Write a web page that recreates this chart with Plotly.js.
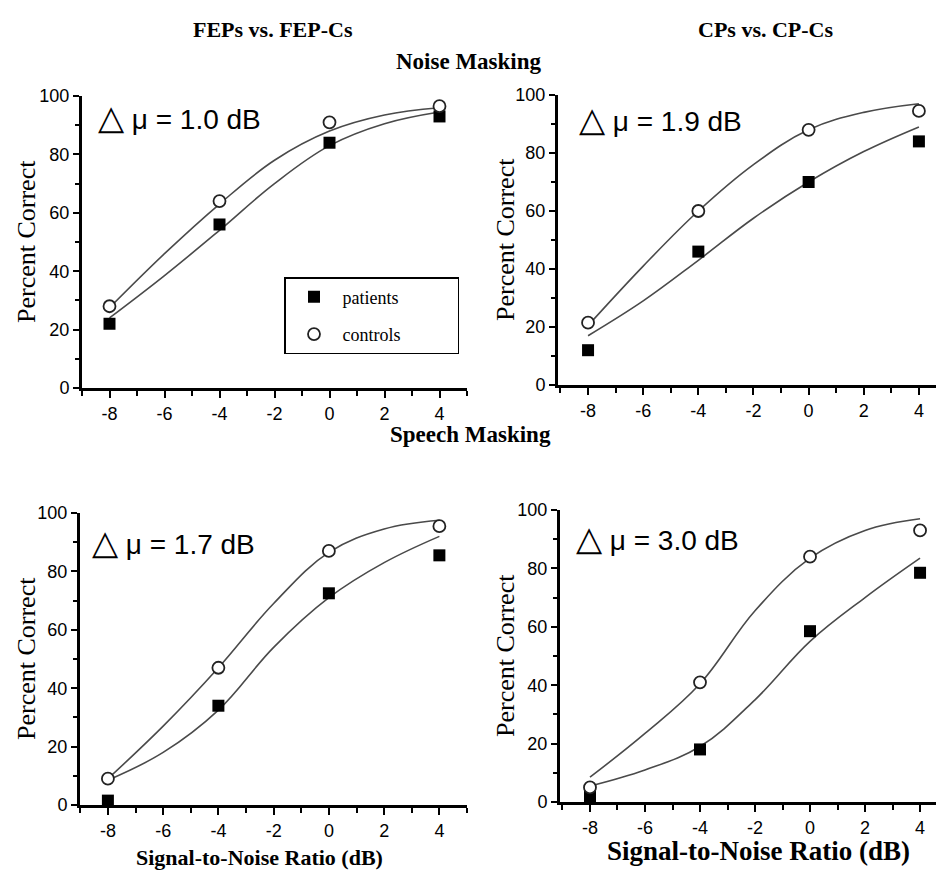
<!DOCTYPE html>
<html>
<head>
<meta charset="utf-8">
<script src="https://cdn.plot.ly/plotly-3.0.1.min.js"></script>
<style>html,body{margin:0;padding:0;background:#fff;}</style>
</head>
<body>
<div id="chart" style="width:936px;height:870px;"></div>
<script>
// ---- data ----
const snr = [-8, -4, 0, 4];
const fitX = [-8, -6, -4, -2, 0, 2, 4];

// Noise masking, FEPs vs FEP-Cs
const noiseFepPatients = [22, 56, 84, 93];
const noiseFepControls = [28, 64, 91, 96.5];
const noiseFepPatientsFit = [24, 38.5, 54, 70, 83, 90.5, 94.5];
const noiseFepControlsFit = [27.5, 46, 63, 78, 88, 93.5, 96];

// Noise masking, CPs vs CP-Cs
const noiseCpPatients = [12, 46, 70, 84];
const noiseCpControls = [21.5, 60, 88, 94.5];
const noiseCpPatientsFit = [17, 29, 43, 57.5, 70, 80.5, 89];
const noiseCpControlsFit = [20.5, 41, 60, 76, 88, 94, 97];

// Speech masking, FEPs vs FEP-Cs
const speechFepPatients = [1.5, 34, 72.5, 85.5];
const speechFepControls = [9, 47, 87, 95.5];
const speechFepPatientsFit = [8.5, 18, 32.5, 54, 71, 83, 92];
const speechFepControlsFit = [9, 27, 47, 69, 86.5, 94.5, 97.5];

// Speech masking, CPs vs CP-Cs
const speechCpPatients = [2, 18, 58.5, 78.5];
const speechCpControls = [5, 41, 84, 93];
const speechCpPatientsFit = [5.5, 11, 19, 35, 55, 70, 83.5];
const speechCpControlsFit = [8.5, 23.5, 40.5, 65.5, 83.5, 93, 97];

const deltaMu = ["1.0", "1.9", "1.7", "3.0"];
const yTicks = [0, 20, 40, 60, 80, 100];
const xTicks = [-8, -6, -4, -2, 0, 2, 4];

// ---- layout helpers ----
const W = 936, H = 870;
const SERIF = 'Liberation Serif, Times New Roman, serif';
const SANS = 'Liberation Sans, Arial, sans-serif';
const panels = [
  {px: [82, 467], py: [96, 388], xr: [-9.0, 5.0], p: noiseFepPatients, c: noiseFepControls, pf: noiseFepPatientsFit, cf: noiseFepControlsFit},
  {px: [558, 936], py: [95, 385], xr: [-9.09, 4.62], p: noiseCpPatients, c: noiseCpControls, pf: noiseCpPatientsFit, cf: noiseCpControlsFit},
  {px: [80, 467], py: [513, 805], xr: [-9.01, 5.0], p: speechFepPatients, c: speechFepControls, pf: speechFepPatientsFit, cf: speechFepControlsFit},
  {px: [560, 936], py: [510, 802], xr: [-9.09, 4.58], p: speechCpPatients, c: speechCpControls, pf: speechCpPatientsFit, cf: speechCpControlsFit}
];

const traces = [];
const layout = {
  width: W, height: H,
  margin: {l: 0, r: 0, t: 0, b: 0},
  paper_bgcolor: '#fff', plot_bgcolor: '#fff',
  showlegend: true,
  legend: {
    x: 284 / W, y: 1 - 277 / H, xanchor: 'left', yanchor: 'top',
    bordercolor: '#000', borderwidth: 1.5, bgcolor: '#fff',
    font: {family: SERIF, size: 18, color: '#000'},
    itemwidth: 47, tracegroupgap: 11
  },
  annotations: [],
  font: {family: SANS, color: '#000'}
};

const tickFont = {family: SANS, size: 18, color: '#000'};

panels.forEach((pn, i) => {
  const k = i === 0 ? '' : String(i + 1);
  const xa = 'x' + k, ya = 'y' + k;
  layout['xaxis' + k] = {
    domain: [pn.px[0] / W, pn.px[1] / W], range: pn.xr, anchor: ya,
    tickvals: xTicks, ticktext: xTicks.map(String),
    ticks: 'outside', ticklen: 7, tickwidth: 2, tickcolor: '#000',
    minor: {dtick: 1, tick0: -9, ticks: 'outside', ticklen: 5, tickwidth: 2, tickcolor: '#000', showgrid: false},
    showline: true, linecolor: '#000', linewidth: 3, showgrid: false, zeroline: false,
    tickfont: tickFont, fixedrange: true
  };
  layout['yaxis' + k] = {
    domain: [1 - pn.py[1] / H, 1 - pn.py[0] / H], range: [0, 100], anchor: xa,
    tickvals: yTicks, ticktext: yTicks.map(String),
    ticks: 'outside', ticklen: 6, tickwidth: 2, tickcolor: '#000',
    minor: {dtick: 10, tick0: 0, ticks: 'outside', ticklen: 4, tickwidth: 2, tickcolor: '#000', showgrid: false},
    showline: true, linecolor: '#000', linewidth: 3, showgrid: false, zeroline: false,
    tickfont: tickFont, fixedrange: true
  };
  const lineStyle = {color: '#4a4a4a', width: 1.6, shape: 'spline', smoothing: 1.1};
  traces.push({x: fitX, y: pn.pf, xaxis: xa, yaxis: ya, mode: 'lines', line: lineStyle, showlegend: false, hoverinfo: 'skip', cliponaxis: false});
  traces.push({x: fitX, y: pn.cf, xaxis: xa, yaxis: ya, mode: 'lines', line: lineStyle, showlegend: false, hoverinfo: 'skip', cliponaxis: false});
  traces.push({x: snr, y: pn.p, xaxis: xa, yaxis: ya, mode: 'markers', name: 'patients' + '\u00A0'.repeat(12), legendgroup: 'p',
    showlegend: i === 0, cliponaxis: false,
    marker: {symbol: 'square', size: 12, color: '#000', line: {color: '#000', width: 0}}});
  traces.push({x: snr, y: pn.c, xaxis: xa, yaxis: ya, mode: 'markers', name: 'controls', legendgroup: 'c',
    showlegend: i === 0, cliponaxis: false,
    marker: {symbol: 'circle', size: 12, color: '#fff', line: {color: '#222', width: 1.8}}});

  // delta mu label
  const ann = [[96, 117], [577, 119], [90, 542], [574, 538]][i];
  layout.annotations.push({
    xref: 'paper', yref: 'paper', x: ann[0] / W, y: 1 - ann[1] / H, xanchor: 'left', yanchor: 'middle',
    text: '<span style="font-size:34px">\u25B3</span> \u03BC = ' + deltaMu[i] + ' dB', showarrow: false,
    font: {family: SANS, size: 28, color: '#000'}
  });
  // y axis title
  const yt = [[26, 242], [505, 240], [26, 659], [505, 656]][i];
  layout.annotations.push({
    xref: 'paper', yref: 'paper', x: yt[0] / W, y: 1 - yt[1] / H, xanchor: 'center', yanchor: 'middle',
    text: 'Percent Correct', textangle: -90, showarrow: false,
    font: {family: SERIF, size: 26, color: '#000'}
  });
});

// titles
const titles = [
  {t: 'FEPs vs. FEP-Cs', x: 273, y: 30, s: 22},
  {t: 'CPs vs. CP-Cs', x: 765, y: 30, s: 22},
  {t: 'Noise Masking', x: 469, y: 62, s: 23},
  {t: 'Speech Masking', x: 470, y: 434, s: 23}
];
titles.forEach(o => layout.annotations.push({
  xref: 'paper', yref: 'paper', x: o.x / W, y: 1 - o.y / H, xanchor: 'center', yanchor: 'middle',
  text: '<b>' + o.t + '</b>', showarrow: false,
  font: {family: SERIF, size: o.s, color: '#000'}
}));
// x axis titles
[{x: 259, y: 857, s: 22}, {x: 758, y: 851, s: 27}].forEach(o => layout.annotations.push({
  xref: 'paper', yref: 'paper', x: o.x / W, y: 1 - o.y / H, xanchor: 'center', yanchor: 'middle',
  text: '<b>Signal-to-Noise Ratio (dB)</b>', showarrow: false,
  font: {family: SERIF, size: o.s, color: '#000'}
}));

Plotly.newPlot('chart', traces, layout, {staticPlot: true, displayModeBar: false});
</script>
</body>
</html>
